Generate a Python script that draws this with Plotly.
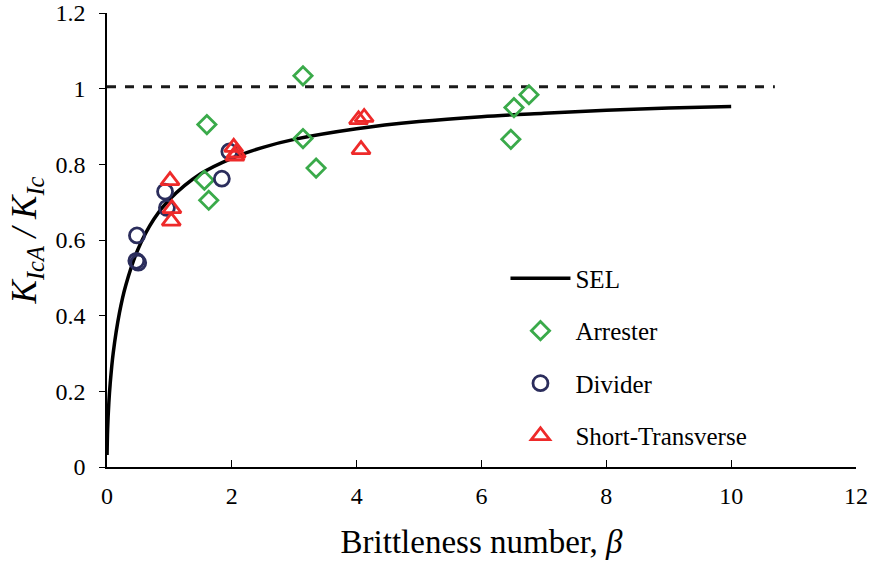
import plotly.graph_objects as go

# SEL curve
sel_x = [0.001, 0.01, 0.03, 0.05, 0.1, 0.2, 0.3, 0.5, 0.75, 1, 1.5, 2, 2.5, 3, 4, 5, 6, 7, 8, 9, 10]
sel_y = [0.032, 0.0995, 0.171, 0.218, 0.302, 0.408, 0.480, 0.577, 0.655, 0.707, 0.775, 0.816,
         0.845, 0.866, 0.894, 0.913, 0.926, 0.935, 0.943, 0.949, 0.953]

# reference dashed line
ref_x = [0, 10.7]
ref_y = [1.005, 1.005]

arrester_x = [3.14, 3.14, 3.35, 1.60, 1.56, 1.63, 6.52, 6.76, 6.47]
arrester_y = [1.034, 0.868, 0.79, 0.905, 0.758, 0.705, 0.95, 0.984, 0.866]

divider_x = [0.48, 0.47, 0.50, 0.93, 0.96, 1.84, 1.96]
divider_y = [0.612, 0.545, 0.54, 0.728, 0.685, 0.762, 0.834]

st_x = [1.01, 1.04, 1.03, 2.03, 2.07, 2.05, 4.03, 4.12, 4.07]
st_y = [0.757, 0.683, 0.65, 0.845, 0.83, 0.822, 0.918, 0.924, 0.839]

FONT = "Times New Roman"

fig = go.Figure()
fig.add_trace(go.Scatter(x=ref_x, y=ref_y, mode="lines", showlegend=False,
                         line=dict(color="#1a1a1a", width=3, dash="dash")))
fig.add_trace(go.Scatter(x=sel_x, y=sel_y, mode="lines", name="SEL", legendgroup="a",
                         line=dict(color="black", width=3.5, shape="spline")))
fig.add_trace(go.Scatter(x=arrester_x, y=arrester_y, mode="markers", name="Arrester", legendgroup="b",
                         marker=dict(symbol="diamond-open", size=14, color="#3aaa4a",
                                     line=dict(width=2.8, color="#3aaa4a"))))
fig.add_trace(go.Scatter(x=divider_x, y=divider_y, mode="markers", name="Divider", legendgroup="c",
                         marker=dict(symbol="circle-open", size=15, color="#2b2d5c",
                                     line=dict(width=2.8, color="#2b2d5c"))))
fig.add_trace(go.Scatter(x=st_x, y=st_y, mode="markers", name="Short-Transverse", legendgroup="d",
                         marker=dict(symbol="triangle-up-open", size=16, color="#ee2a2a",
                                     line=dict(width=2.8, color="#ee2a2a"))))

fig.update_layout(
    width=876, height=565,
    margin=dict(l=107, r=20, t=13, b=98),
    paper_bgcolor="white", plot_bgcolor="white",
    font=dict(family=FONT, size=24, color="black"),
    legend=dict(x=0.532, y=0.466, xanchor="left", yanchor="top",
                font=dict(family=FONT, size=25, color="black"),
                traceorder="grouped", tracegroupgap=17, itemwidth=60,
                bgcolor="rgba(0,0,0,0)"),
    xaxis=dict(range=[0, 12], tickvals=[0, 2, 4, 6, 8, 10, 12], showgrid=False, zeroline=False,
               showline=True, linecolor="black", linewidth=1.5, ticks="inside", ticklen=7,
               tickcolor="black", tickfont=dict(family=FONT, size=24), automargin=False,
               ticklabelstandoff=6,
               title=dict(text="Brittleness number, <i>β</i>", font=dict(family=FONT, size=33), standoff=22)),
    yaxis=dict(range=[0, 1.2], tickvals=[0, 0.2, 0.4, 0.6, 0.8, 1, 1.2],
               ticktext=["0", "0.2", "0.4", "0.6", "0.8", "1", "1.2"],
               showgrid=False, zeroline=False, automargin=False,
               showline=True, linecolor="black", linewidth=1.5, ticks="outside", ticklen=6,
               tickcolor="black", tickfont=dict(family=FONT, size=24), ticklabelstandoff=9,
               title=dict(text="<i>K</i><sub><i>IcA</i></sub><i> / K</i><sub><i>Ic</i></sub>",
                          font=dict(family=FONT, size=35), standoff=8)),
)

fig.write_html("out.html")
